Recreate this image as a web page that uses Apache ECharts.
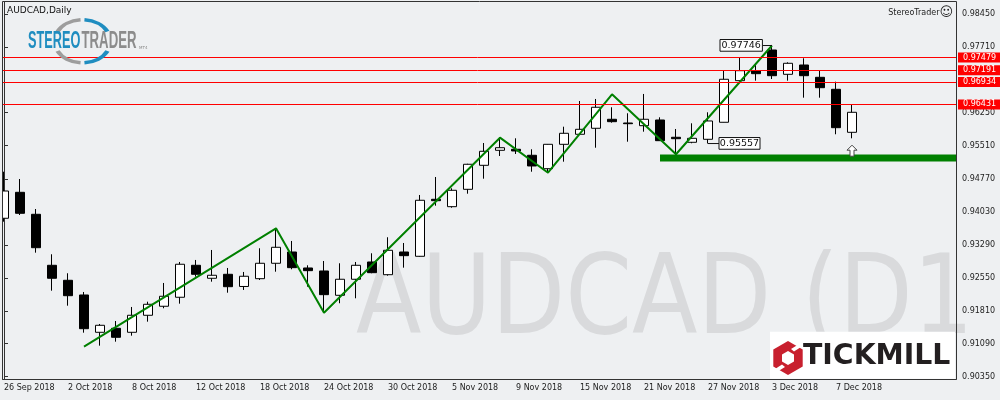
<!DOCTYPE html>
<html><head><meta charset="utf-8">
<script src="https://cdn.jsdelivr.net/npm/echarts@6/dist/echarts.min.js"></script>
<style>html,body{margin:0;padding:0;background:#eef0f2}#c{width:1000px;height:400px}</style>
</head><body><div id="c"></div>
<script>
// ---- data ----
const dates = ['26 Sep 2018','27 Sep 2018','28 Sep 2018','1 Oct 2018','2 Oct 2018','3 Oct 2018','4 Oct 2018','5 Oct 2018',
  '8 Oct 2018','9 Oct 2018','10 Oct 2018','11 Oct 2018','12 Oct 2018','15 Oct 2018','16 Oct 2018','17 Oct 2018',
  '18 Oct 2018','19 Oct 2018','22 Oct 2018','23 Oct 2018','24 Oct 2018','25 Oct 2018','26 Oct 2018','29 Oct 2018',
  '30 Oct 2018','31 Oct 2018','1 Nov 2018','2 Nov 2018','5 Nov 2018','6 Nov 2018','7 Nov 2018','8 Nov 2018',
  '9 Nov 2018','12 Nov 2018','13 Nov 2018','14 Nov 2018','15 Nov 2018','16 Nov 2018','19 Nov 2018','20 Nov 2018',
  '21 Nov 2018','22 Nov 2018','23 Nov 2018','26 Nov 2018','27 Nov 2018','28 Nov 2018','29 Nov 2018','30 Nov 2018',
  '3 Dec 2018','4 Dec 2018','5 Dec 2018','6 Dec 2018','7 Dec 2018','10 Dec 2018'];
const opens = [0.93888,0.94468,0.93977,0.92838,0.92503,0.92175,0.91342,0.91431,0.91342,0.91722,
  0.91923,0.92124,0.92838,0.92548,0.92637,0.92365,0.92539,0.92883,0.93135,0.92778,
  0.92711,0.92168,0.92526,0.92912,0.92628,0.93135,0.93039,0.94312,0.94147,0.94535,
  0.95071,0.95406,0.95429,0.95295,0.94995,0.95540,0.95764,0.95898,0.96099,0.96016,
  0.95956,0.96083,0.95697,0.95585,0.95652,0.96032,0.96961,0.97184,0.97646,0.97103,
  0.97311,0.97036,0.96768,0.95808];
const closes = [0.94497,0.93999,0.93231,0.92548,0.92159,0.91422,0.91498,0.91230,0.91722,0.91967,
  0.92146,0.92861,0.92637,0.92615,0.92360,0.92593,0.92883,0.93240,0.92785,0.92718,
  0.92182,0.92526,0.92838,0.92673,0.93173,0.93053,0.94290,0.94281,0.94513,0.95094,
  0.95384,0.95464,0.95391,0.95056,0.95540,0.95786,0.95875,0.96367,0.96045,0.96000,
  0.96099,0.95621,0.95665,0.95674,0.96061,0.96992,0.97184,0.97117,0.97072,0.97349,
  0.97072,0.96804,0.95911,0.96255];
const lows = [0.93812,0.93961,0.93120,0.92271,0.91936,0.91333,0.91043,0.91132,0.91266,0.91579,
  0.91878,0.91981,0.92584,0.92472,0.92226,0.92287,0.92510,0.92695,0.92749,0.92360,
  0.91780,0.91990,0.92101,0.92660,0.92606,0.92785,0.93030,0.94169,0.94124,0.94437,
  0.94772,0.95279,0.95324,0.94928,0.94906,0.95152,0.95755,0.95464,0.96023,0.95598,
  0.95822,0.95615,0.95301,0.95563,0.95557,0.96030,0.96958,0.96961,0.96998,0.96961,
  0.96581,0.96581,0.95764,0.95674];
const highs = [0.94928,0.94765,0.94095,0.93084,0.92660,0.92242,0.91527,0.91594,0.91907,0.92025,
  0.92443,0.92912,0.92957,0.93180,0.92778,0.92689,0.93218,0.93664,0.93381,0.92838,
  0.92934,0.92883,0.92912,0.93106,0.93464,0.93336,0.94408,0.94810,0.94558,0.95105,
  0.95569,0.95697,0.95674,0.95429,0.95545,0.95933,0.96507,0.96552,0.96367,0.96233,
  0.96664,0.96143,0.95882,0.96009,0.96255,0.97177,0.97483,0.97311,0.97746,0.97371,
  0.97461,0.97184,0.96938,0.96418];
const zigzagIdx = [5,17,20,31,34,38,42,48];
const zigzagVal = [0.91020,0.93664,0.91780,0.95688,0.94906,0.96657,0.95317,0.97746];
const redLevels = [0.97479,0.97191,0.96934,0.96431];
const supportLevel = 0.95234;
const supportStart = 41;
const yTicks = [0.9035,0.9109,0.9181,0.9255,0.9329,0.9403,0.9477,0.9551,0.9625,0.9771,0.9845];
const futureSlots = 6;
const highMark = {index:48, value:0.97746};
const lowMark = {index:44, value:0.95557};
const arrowIndex = 53;

// ---- chart ----
const BG = '#eef0f2';
const cats = dates.concat(new Array(futureSlots).fill(''));
const showIdx = (i) => i % 4 === 0 && i < dates.length;
const candles = dates.map((d,i)=>[opens[i],closes[i],lows[i],highs[i]]);
const RED_LS = {color:'#ff0000', width:1, type:'solid'};

const chart = echarts.init(document.getElementById('c'), null, {renderer:'canvas', width:1000, height:400});
chart.setOption({
  backgroundColor: BG,
  animation: false,
  grid: {left:-4, right:44, top:1.5, bottom:20.7, containLabel:false, outerBoundsMode:'none'},
  xAxis: [{
    type:'category', data:cats, boundaryGap:true,
    axisLine:{lineStyle:{color:'#333',width:1}},
    axisTick:{alignWithLabel:true, length:4, interval:showIdx, lineStyle:{color:'#333'}},
    axisLabel:{interval:showIdx, align:'left', margin:5, fontFamily:'DejaVu Sans', fontSize:8, color:'#222'},
    splitLine:{show:false}
  },{
    type:'value', min:-0.5, max:cats.length-0.5, show:false
  }],
  yAxis: {
    type:'value', position:'right', min:0.90292, max:0.98729,
    axisLine:{show:true, lineStyle:{color:'#333'}},
    axisTick:{show:true, length:4, customValues:yTicks, lineStyle:{color:'#333'}},
    axisLabel:{customValues:yTicks, formatter:(v)=>Number(v).toFixed(5), margin:6, fontFamily:'DejaVu Sans', fontSize:8, color:'#222'},
    splitLine:{show:false}
  },
  series: [{
    type:'candlestick', xAxisIndex:0, data:candles, barWidth:10, z:2, silent:true,
    itemStyle:{color:'#ffffff', color0:'#000000', borderColor:'#000000', borderColor0:'#000000', borderColorDoji:'#000000', borderWidth:1},
    markLine:{
      silent:true, symbol:['none','none'], animation:false, precision:5,
      data: redLevels.map(v=>({yAxis:v, lineStyle:RED_LS})),
      lineStyle:RED_LS,
      label:{show:true, position:'end', distance:2, formatter:(p)=>Number(p.value).toFixed(5),
        color:'#ffffff', backgroundColor:'#ff0000', padding:[1,4,1,5], fontSize:8, lineHeight:8, fontFamily:'DejaVu Sans'},
      emphasis:{disabled:true}
    }
  },{
    type:'line', xAxisIndex:0, data: zigzagIdx.map((x,i)=>[x, zigzagVal[i]]),
    symbol:'none', silent:true, z:3, lineStyle:{color:'#008000', width:2}
  },{
    type:'line', xAxisIndex:1, data: [[supportStart, supportLevel],[cats.length-0.5, supportLevel]],
    symbol:'none', silent:true, z:3, lineStyle:{color:'#008000', width:7, cap:'butt'}
  }]
});

const px = (i,v)=>chart.convertToPixel({seriesIndex:0},[i,v]);
const g = [];
// watermark
g.push({type:'text', x:356, y:304, scaleX:0.87, z:0, silent:true,
  style:{text:'AUDCAD (D1', font:'110px "DejaVu Sans"', fill:'#d9dadc', align:'left', verticalAlign:'middle'}});
// cover left overflow + frame
g.push({type:'rect', z:19, silent:true, shape:{x:0,y:0,width:2.5,height:400}, style:{fill:BG}});
g.push({type:'rect', z:20, silent:true, shape:{x:2.5,y:1.5,width:954,height:378}, style:{fill:'none', stroke:'#333', lineWidth:1}});
// title
g.push({type:'text', x:7, y:11, z:20, silent:true, style:{text:'AUDCAD,Daily', font:'9px "DejaVu Sans"', fill:'#111', align:'left', verticalAlign:'middle'}});
// top right brand
g.push({type:'text', x:939.5, y:12.7, z:20, silent:true, style:{text:'StereoTrader', font:'8px "DejaVu Sans"', fill:'#222', align:'right', verticalAlign:'middle'}});
g.push({type:'text', x:946.2, y:12.7, z:20, silent:true, style:{text:'\u263A', font:'13px "DejaVu Sans"', fill:'#222', align:'center', verticalAlign:'middle'}});
// StereoTrader logo (elliptical arcs)
const d2r = Math.PI/180;
const arcDefs = [[-153,-94,'#9d9d9d'],[-86,-27,'#1f8dc0'],[94,153,'#9d9d9d'],[27,86,'#1f8dc0']];
arcDefs.forEach(a=>{
  g.push({type:'arc', x:82.5, y:41.3, scaleY:0.768, z:5, silent:true,
    shape:{cx:0, cy:0, r:28, startAngle:a[0]*d2r, endAngle:a[1]*d2r, clockwise:true},
    style:{fill:'none', stroke:a[2], lineWidth:4.5, strokeNoScale:true}});
});
g.push({type:'text', x:28, y:41.5, scaleX:0.53, z:6, silent:true, style:{text:'STEREO', font:'bold 24px "Liberation Sans"', fill:'#1f8dc0', align:'left', verticalAlign:'middle'}});
g.push({type:'text', x:81.5, y:41.5, scaleX:0.55, z:6, silent:true, style:{text:'TRADER', font:'bold 24px "Liberation Sans"', fill:'#8c8c8c', align:'left', verticalAlign:'middle'}});
g.push({type:'text', x:139, y:48, z:6, silent:true, style:{text:'MT4', font:'4px "DejaVu Sans"', fill:'#8c8c8c', align:'left', verticalAlign:'middle'}});
// Tickmill logo
g.push({type:'rect', z:1, silent:true, shape:{x:770,y:331.7,width:185,height:47}, style:{fill:'#ffffff'}});
g.push({type:'polygon', z:2, silent:true, shape:{points:[[788,341],[802.7,349.5],[802.7,366.5],[788,375],[773.3,366.5],[773.3,349.5]]}, style:{fill:'#c8202e'}});
g.push({type:'polygon', z:2, silent:true, shape:{points:[[788,351],[794,354.5],[794,361.5],[788,365],[782,361.5],[782,354.5]]}, style:{fill:'#ffffff'}});
g.push({type:'polygon', z:2, silent:true, shape:{points:[[791,349],[804,341],[804,345],[794,351.5]]}, style:{fill:'#ffffff'}});
g.push({type:'polygon', z:2, silent:true, shape:{points:[[785,367],[772,375],[772,371],[782,364.5]]}, style:{fill:'#ffffff'}});
g.push({type:'text', x:803, y:356.4, scaleX:1.03, z:2, silent:true, style:{text:'TICKMILL', font:'bold 27.5px "DejaVu Sans"', fill:'#231f20', align:'left', verticalAlign:'middle'}});
// high / low annotation boxes
const ph = px(highMark.index, highMark.value);
g.push({type:'line', z:20, silent:true, shape:{x1:ph[0]-9.6,y1:ph[1],x2:ph[0],y2:ph[1]}, style:{stroke:'#111', lineWidth:1}});
g.push({type:'rect', z:20, silent:true, shape:{x:ph[0]-52,y:ph[1]-6,width:42.4,height:11.7}, style:{fill:'#ffffff', stroke:'#111', lineWidth:1}});
g.push({type:'text', x:ph[0]-30.8, y:ph[1], z:21, silent:true, style:{text:highMark.value.toFixed(5), font:'9.5px "DejaVu Sans"', fill:'#111', align:'center', verticalAlign:'middle'}});
const pl = px(lowMark.index, lowMark.value);
g.push({type:'line', z:20, silent:true, shape:{x1:pl[0],y1:pl[1],x2:pl[0]+11,y2:pl[1]}, style:{stroke:'#111', lineWidth:1}});
g.push({type:'rect', z:20, silent:true, shape:{x:pl[0]+11,y:pl[1]-6,width:41,height:11.7}, style:{fill:'#ffffff', stroke:'#111', lineWidth:1}});
g.push({type:'text', x:pl[0]+31.5, y:pl[1], z:21, silent:true, style:{text:lowMark.value.toFixed(5), font:'9.5px "DejaVu Sans"', fill:'#111', align:'center', verticalAlign:'middle'}});
// arrow under last bar
const pa = px(arrowIndex, lows[arrowIndex]);
const ax = pa[0], ay = pa[1] + 12.4;
g.push({type:'polygon', z:20, silent:true, shape:{points:[[ax,ay-5.5],[ax+5,ay-0.5],[ax+2,ay-0.5],[ax+2,ay+5.5],[ax-2,ay+5.5],[ax-2,ay-0.5],[ax-5,ay-0.5]]},
  style:{fill:'#ffffff', stroke:'#444', lineWidth:1}});
chart.setOption({graphic:{elements:g}});
</script>
</body></html>
